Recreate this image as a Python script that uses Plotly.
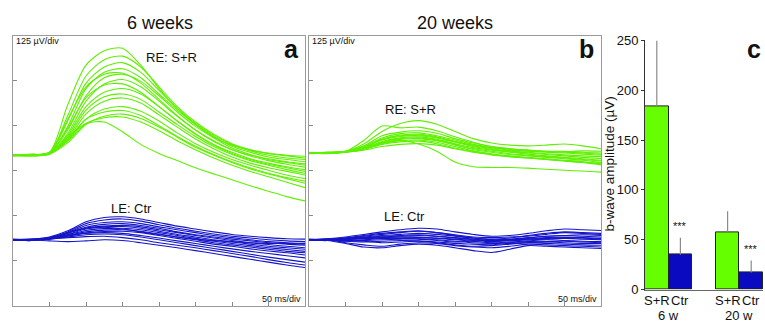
import plotly.graph_objects as go

W, H = 765, 329
FONT = "Liberation Sans, Arial, sans-serif"

# time samples (ms)
t_ms = [0, 25, 50, 75, 100, 125, 150, 175, 200, 225, 250, 275, 300, 325, 350, 375, 400]

# ---- Panel a (6 weeks) RE: S+R, amplitude in µV relative to baseline
a_green = [
    [0, 2, 8, 140, 250, 290, 297, 250, 185, 130, 85, 50, 28, 14, 5, 0, -3],
    [0, -2, 5, 110, 220, 265, 275, 245, 190, 135, 92, 58, 32, 15, 5, -2, -8],
    [2, 0, 6, 95, 200, 245, 257, 230, 180, 130, 88, 55, 30, 12, 0, -8, -12],
    [0, 3, 4, 80, 185, 230, 240, 215, 170, 125, 85, 52, 25, 8, -5, -12, -18],
    [-2, 0, 8, 100, 190, 225, 228, 200, 155, 110, 70, 38, 15, 0, -10, -18, -24],
    [0, 2, 5, 70, 165, 215, 225, 205, 165, 120, 80, 48, 20, 2, -12, -20, -28],
    [1, -1, 3, 60, 150, 198, 210, 190, 150, 108, 70, 40, 15, -2, -15, -25, -33],
    [0, 0, 6, 75, 160, 195, 198, 175, 135, 95, 60, 30, 8, -10, -22, -32, -40],
    [-1, 2, 4, 55, 135, 175, 185, 170, 135, 95, 58, 28, 5, -12, -25, -35, -45],
    [0, 1, 5, 50, 125, 162, 170, 155, 120, 85, 52, 24, 2, -15, -28, -40, -50],
    [2, 0, 3, 45, 115, 150, 159, 145, 112, 78, 45, 18, -5, -22, -35, -45, -55],
    [0, -2, 4, 40, 100, 128, 135, 122, 95, 62, 32, 8, -12, -28, -42, -55, -65],
    [0, 1, 6, 45, 100, 120, 124, 110, 82, 52, 25, 2, -18, -35, -50, -62, -72],
    [-2, 0, 3, 35, 85, 108, 114, 102, 78, 50, 22, 0, -20, -38, -52, -65, -78],
    [0, 2, 5, 40, 88, 104, 106, 92, 68, 40, 15, -8, -28, -45, -60, -75, -90],
    [1, 0, 8, 50, 88, 92, 65, 30, 5, -15, -35, -52, -68, -85, -100, -115, -127],
]
# Panel a LE: Ctr
a_blue = [
    [0, 2, 8, 25, 50, 62, 64, 58, 48, 38, 30, 22, 15, 10, 6, 3, 2],
    [0, -2, 5, 22, 45, 55, 58, 52, 42, 32, 24, 16, 10, 5, 0, -3, -5],
    [2, 0, 6, 20, 40, 48, 50, 45, 36, 28, 20, 12, 6, 0, -5, -8, -10],
    [0, 1, 4, 18, 35, 43, 45, 40, 32, 22, 14, 8, 2, -3, -8, -12, -15],
    [-1, 0, 5, 18, 32, 38, 40, 36, 28, 20, 12, 5, -2, -8, -13, -18, -22],
    [0, 2, 3, 15, 30, 36, 37, 32, 24, 15, 8, 0, -6, -12, -18, -22, -26],
    [1, -1, 4, 14, 26, 31, 32, 28, 20, 12, 4, -4, -10, -16, -22, -27, -32],
    [0, 0, 3, 12, 22, 27, 28, 24, 16, 8, 0, -8, -14, -20, -26, -32, -36],
    [-1, 1, 2, 10, 19, 23, 24, 20, 12, 4, -4, -12, -18, -25, -31, -36, -42],
    [0, 0, 4, 12, 18, 20, 18, 12, 5, -3, -10, -18, -25, -32, -38, -44, -50],
    [1, -1, 3, 8, 14, 16, 14, 8, 0, -8, -16, -24, -32, -40, -48, -55, -62],
    [0, 1, 2, 6, 9, 10, 6, 0, -8, -15, -22, -30, -38, -46, -55, -63, -70],
    [0, 0, -3, -5, -3, 0, -2, -8, -15, -22, -30, -38, -46, -54, -62, -70, -77],
    [0, -2, 6, 20, 33, 35, 30, 22, 15, 8, 2, -2, -5, -8, -10, -10, -12],
]
# ---- Panel b (20 weeks) RE: S+R
b_green = [
    [0, 2, 5, 25, 60, 82, 90, 80, 60, 40, 28, 22, 20, 22, 25, 20, 12],
    [0, -2, 4, 35, 75, 70, 72, 62, 45, 30, 18, 12, 8, 5, 5, 2, 0],
    [2, 0, 3, 20, 48, 58, 62, 55, 40, 28, 18, 12, 8, 5, 2, 0, -3],
    [0, 1, 5, 18, 42, 54, 56, 48, 36, 24, 15, 8, 5, 2, 0, -3, -6],
    [-1, 0, 2, 15, 38, 50, 52, 45, 32, 20, 12, 6, 2, -2, -5, -8, -10],
    [0, 2, 4, 16, 36, 46, 48, 42, 30, 18, 10, 4, 0, -4, -8, -12, -15],
    [1, -1, 3, 12, 32, 42, 45, 38, 26, 15, 8, 2, -3, -8, -12, -16, -20],
    [0, 0, 5, 14, 30, 40, 42, 36, 24, 12, 5, -2, -6, -10, -14, -18, -22],
    [-2, 1, 2, 10, 28, 38, 40, 34, 22, 10, 2, -4, -8, -12, -16, -20, -26],
    [0, 0, 4, 12, 26, 34, 36, 30, 18, 6, -2, -8, -12, -16, -20, -24, -30],
    [1, -1, 2, 10, 24, 31, 33, 26, 14, 4, -4, -10, -14, -18, -22, -26, -33],
    [0, 1, 3, 12, 28, 35, 25, 5, -25, -38, -40, -40, -42, -45, -48, -50, -53],
    [0, -1, 3, 8, 18, 24, 26, 22, 12, 2, -5, -10, -14, -18, -22, -26, -28],
    [0, 2, 4, 14, 38, 48, 50, 44, 32, 22, 15, 10, 6, 4, 4, 6, 5],
]
# Panel b LE: Ctr
b_blue = [
    [0, 3, 8, 15, 22, 28, 32, 30, 22, 15, 10, 12, 18, 25, 30, 28, 26],
    [0, -2, 5, 12, 18, 22, 25, 20, 12, 5, 2, 5, 12, 18, 22, 20, 18],
    [2, 0, 4, 8, 12, 15, 18, 15, 10, 5, 0, 0, 5, 10, 12, 10, 8],
    [0, 2, 0, 5, 8, 10, 12, 10, 6, 2, -2, 0, 3, 6, 8, 6, 4],
    [-1, 0, 3, 4, 6, 8, 8, 5, 2, -2, -5, -3, 0, 2, 4, 2, 0],
    [0, 1, -2, 0, 4, 5, 6, 4, 0, -4, -8, -6, -3, 0, -2, -4, -5],
    [1, -1, 0, -2, 0, 2, 3, 0, -4, -8, -10, -8, -5, -6, -8, -10, -10],
    [0, 0, -4, -6, -4, -2, -3, -6, -10, -12, -14, -10, -8, -10, -12, -14, -15],
    [-1, 1, -8, -14, -18, -12, -8, -10, -16, -20, -22, -18, -12, -14, -16, -18, -20],
    [0, -2, -10, -20, -22, -16, -12, -15, -22, -30, -35, -26, -16, -18, -20, -22, -24],
    [0, 2, 5, 10, 15, 20, 24, 20, 14, 8, 6, 8, 10, 15, 20, 18, 15],
    [1, -1, 2, 3, 5, 4, 2, -2, -6, -4, 0, 2, 6, 10, 12, 14, 12],
    [0, 0, -3, -4, -8, -6, -4, -8, -14, -18, -16, -12, -8, -5, -4, -6, -8],
    [0, 1, 3, 6, 10, 12, 14, 10, 5, 0, -3, -1, 2, 4, 6, 5, 2],
]

# ---- Panel c bar chart
bar_labels = ["S+R", "Ctr", "S+R", "Ctr"]
group_labels = ["6 w", "20 w"]
bar_values = [184, 35, 57.5, 17]
bar_errors = [66, 17, 21, 12]
bar_sig = ["", "***", "", "***"]

# display offsets (µV) for stacked traces
OFF_A_GREEN, OFF_A_BLUE = 418, 183
OFF_B_GREEN, OFF_B_BLUE = 424, 183
GREEN_LINE = "#5ef000"
BLUE_LINE = "#1414c8"
GREEN_BAR = "#66ff00"
BLUE_BAR = "#0a0ac0"


def px(x):
    return x / W


def py(y):
    return 1 - y / H


fig = go.Figure()


def add_traces(data, offset, color, xa, ya):
    for tr in data:
        fig.add_trace(go.Scatter(
            x=t_ms, y=[v + offset for v in tr], mode="lines",
            line=dict(color=color, width=1.1, shape="spline", smoothing=0.8),
            xaxis=xa, yaxis=ya, showlegend=False, hoverinfo="skip"))


add_traces(a_green, OFF_A_GREEN, GREEN_LINE, "x", "y")
add_traces(a_blue, OFF_A_BLUE, BLUE_LINE, "x", "y")
add_traces(b_green, OFF_B_GREEN, GREEN_LINE, "x2", "y2")
add_traces(b_blue, OFF_B_BLUE, BLUE_LINE, "x2", "y2")

bar_x = [0.5, 1.5, 3.5, 4.5]
fig.add_trace(go.Bar(
    x=bar_x, y=bar_values, width=1,
    marker=dict(color=[GREEN_BAR, BLUE_BAR, GREEN_BAR, BLUE_BAR],
                line=dict(color="#222222", width=1)),
    error_y=dict(type="data", array=bar_errors, arrayminus=[0, 0, 0, 0],
                 symmetric=False, color="#8a8a8a", thickness=1.2, width=0),
    xaxis="x3", yaxis="y3", showlegend=False, hoverinfo="skip"))

trace_x = dict(range=[0, 400], tickvals=list(range(0, 401, 50)), ticks="inside",
               ticklen=4, tickcolor="#888", showticklabels=False, showgrid=False,
               zeroline=False, showline=True, linecolor="#9a9a9a", linewidth=1,
               mirror=True)
trace_y = dict(range=[0, 750], tickvals=list(range(0, 751, 125)), ticks="inside",
               ticklen=4, tickcolor="#888", showticklabels=False, showgrid=False,
               zeroline=False, showline=True, linecolor="#9a9a9a", linewidth=1,
               mirror=True)

fig.update_layout(
    width=W, height=H, autosize=False,
    margin=dict(l=0, r=0, t=0, b=0),
    paper_bgcolor="white", plot_bgcolor="white",
    font=dict(family=FONT, color="#111"),
    xaxis=dict(domain=[px(13), px(305)], anchor="y", **trace_x),
    yaxis=dict(domain=[py(313), py(30)], anchor="x", **trace_y),
    xaxis2=dict(domain=[px(309), px(601)], anchor="y2", **trace_x),
    yaxis2=dict(domain=[py(313), py(30)], anchor="x2", **trace_y),
    xaxis3=dict(domain=[px(645), px(763)], anchor="y3", range=[0, 5],
                showticklabels=False, ticks="", showgrid=False, zeroline=False,
                showline=True, linecolor="#666", linewidth=1),
    yaxis3=dict(domain=[py(296), py(35)], anchor="x3", range=[0, 250],
                tickvals=[0, 50, 100, 150, 200, 250], ticks="outside", ticklen=3,
                tickcolor="#333", showgrid=False, zeroline=False, showline=True,
                linecolor="#333", linewidth=1,
                tickfont=dict(size=13, family=FONT, color="#111")),
    bargap=0,
)

ann = []


def label(text, x, y, size, bold=False, xanchor="center", yanchor="middle", angle=0):
    ann.append(dict(text=f"<b>{text}</b>" if bold else text, x=px(x), y=py(y),
                    xref="paper", yref="paper", showarrow=False, xanchor=xanchor,
                    yanchor=yanchor, textangle=angle,
                    font=dict(size=size, family=FONT, color="#111")))


label("6 weeks", 160, 17, 18)
label("20 weeks", 455, 17, 18)
label("125 µV/div", 14, 36, 9, xanchor="left")
label("125 µV/div", 310, 36, 9, xanchor="left")
label("50 ms/div", 303, 306, 9, xanchor="right")
label("50 ms/div", 599, 306, 9, xanchor="right")
label("a", 291, 44, 25, bold=True)
label("b", 586, 44, 25, bold=True)
label("c", 754, 44, 25, bold=True)
label("RE: S+R", 171, 53, 13)
label("LE: Ctr", 131, 211, 13)
label("RE: S+R", 410, 107, 13)
label("LE: Ctr", 404, 219, 13)
label("b-wave amplitude (µV)", 609, 165, 13.5, angle=-90)

# bar category labels, group labels and significance stars via axis coords
for xv, lab in zip(bar_x, bar_labels):
    ann.append(dict(text=lab, x=xv, y=0, xref="x3", yref="y3", yshift=-11,
                    showarrow=False, xanchor="center", yanchor="middle",
                    font=dict(size=13, family=FONT, color="#111")))
for xv, lab in zip([1.0, 4.0], group_labels):
    ann.append(dict(text=lab, x=xv, y=0, xref="x3", yref="y3", yshift=-26,
                    showarrow=False, xanchor="center", yanchor="middle",
                    font=dict(size=13, family=FONT, color="#111")))
for xv, v, e, s in zip(bar_x, bar_values, bar_errors, bar_sig):
    if s:
        ann.append(dict(text=s, x=xv, y=v + e, xref="x3", yref="y3", yshift=4,
                        showarrow=False, xanchor="center", yanchor="bottom",
                        font=dict(size=11, family=FONT, color="#111")))

fig.update_layout(annotations=ann)
fig.write_html(
    "out.html",
    config={"displayModeBar": False},
    post_script="document.body.style.margin='0';document.body.style.overflow='hidden';",
)
